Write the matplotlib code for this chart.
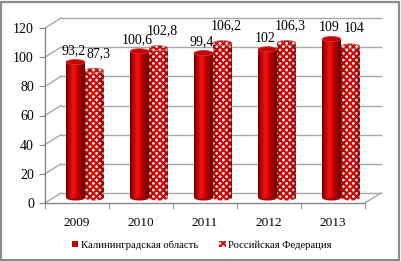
import numpy as np
import matplotlib
matplotlib.use("Agg")
import matplotlib.pyplot as plt
from matplotlib.patches import Ellipse, Rectangle, Patch
from matplotlib.colors import LinearSegmentedColormap

plt.rcParams['font.family'] = ['Liberation Serif', 'DejaVu Serif']
plt.rcParams['hatch.linewidth'] = 1.5

years = ['2009', '2010', '2011', '2012', '2013']
kaliningrad = [93.2, 100.6, 99.4, 102, 109]
russia = [87.3, 102.8, 106.2, 106.3, 104]
series_names = ['Калининградская область', 'Российская Федерация']

RED = '#c00000'
HATCH_RED = '#d80000'
HATCH = 'xxxxx'
GRID = '#a6a6a6'
AXIS = '#868686'

fig = plt.figure(figsize=(4.01, 2.61), dpi=100)
ax = fig.add_axes([45 / 401, 58 / 261, 320 / 401, 175 / 261])
ax.set_xlim(-0.5, 4.5)
ax.set_ylim(0, 120)

# depth of the 3d box, in data units (16 px right, 10 px up)
px_x = 320 / 5
px_y = 175 / 120
dx, dy = 16 / px_x, 10 / px_y
mx, my = dx / 2, dy / 2

# back wall + left wall lines
for y in range(0, 121, 20):
    ax.plot([-0.5 + dx, 4.5 + dx], [y + dy, y + dy], color=GRID, lw=1, clip_on=False, zorder=1)
    ax.plot([-0.5, -0.5 + dx], [y, y + dy], color=GRID, lw=1, clip_on=False, zorder=1)
ax.plot([4.5, 4.5 + dx], [0, dy], color=GRID, lw=1, clip_on=False, zorder=1)

cyl = LinearSegmentedColormap.from_list('cyl', ['#700000', '#c80000', '#ec1a1a', '#cc0000', '#9a0000', '#600000'])
shade = LinearSegmentedColormap.from_list('shade', [(0.3, 0, 0, 0.35), (0, 0, 0, 0.0), (0, 0, 0, 0.0), (0.3, 0, 0, 0.45)])

w = 0.29
off = 0.148
eh = 5 / px_y
x = np.arange(len(years))

for i in range(len(years)):
    # Kaliningrad cylinder
    cx = x[i] + mx - off
    v = kaliningrad[i]
    ax.add_patch(Ellipse((cx, my), w, eh, facecolor='#a00000', edgecolor='none', zorder=2))
    bar = ax.bar(cx, v, w, bottom=my, color=RED, zorder=3)[0]
    im = ax.imshow(np.linspace(0, 1, 64)[None, :], extent=(cx - w / 2, cx + w / 2, my, my + v),
                   cmap=cyl, aspect='auto', zorder=3.5)
    im.set_clip_path(bar)
    ax.add_patch(Ellipse((cx, my + v), w, eh, facecolor='#c40000', edgecolor='#e03030', lw=0.6, zorder=4))
    ax.annotate(f"{v:g}".replace('.', ','), (cx, my + v), xytext=(-1.5, 8), textcoords='offset points',
                ha='center', va='center', fontsize=10)

    # Russia cylinder
    cx = x[i] + mx + off
    v = russia[i]
    ax.add_patch(Ellipse((cx, my), w, eh, facecolor='white', edgecolor=HATCH_RED, hatch=HATCH, lw=0, zorder=2))
    bar = ax.bar(cx, v, w, bottom=my, facecolor='white', edgecolor=HATCH_RED, hatch=HATCH, lw=0, zorder=3)[0]
    im = ax.imshow(np.linspace(0, 1, 64)[None, :], extent=(cx - w / 2, cx + w / 2, my, my + v),
                   cmap=shade, aspect='auto', zorder=3.5)
    im.set_clip_path(bar)
    ax.add_patch(Ellipse((cx, my + v), w, eh, facecolor='white', edgecolor=HATCH_RED, hatch=HATCH, lw=0, zorder=4))
    ax.add_patch(Ellipse((cx, my + v), w, eh, fill=False, edgecolor='#b07070', lw=0.6, zorder=4.5))
    ax.annotate(f"{v:g}".replace('.', ','), (cx, my + v), xytext=(3, 12.5), textcoords='offset points',
                ha='center', va='center', fontsize=10)

ax.set_xlim(-0.5, 4.5)
ax.set_ylim(0, 120)

for s in ['top', 'right']:
    ax.spines[s].set_visible(False)
for s in ['left', 'bottom']:
    ax.spines[s].set_color(AXIS)
    ax.spines[s].set_linewidth(1)

ax.set_yticks(range(0, 121, 20))
ax.tick_params(axis='y', length=4, color=AXIS, labelsize=10, pad=4)
ax.set_xticks(x)
ax.set_xticklabels(years)
ax.set_xticks(np.arange(-0.5, 5, 1), minor=True)
ax.tick_params(axis='x', which='major', length=0, labelsize=9.5, pad=10)
ax.tick_params(axis='x', which='minor', length=4, color=AXIS)

handles = [Patch(facecolor=RED, edgecolor='none'),
           Patch(facecolor='white', edgecolor=HATCH_RED, hatch=HATCH, lw=0)]
fig.legend(handles, series_names, loc='center', bbox_to_anchor=(0.503, 1 - 245 / 261), ncol=2,
           frameon=False, fontsize=7.7, handlelength=0.6, handleheight=0.6, handletextpad=0.25,
           columnspacing=2.0)

fig.add_artist(Rectangle((0.002, 0.004), 0.994, 0.99, transform=fig.transFigure, fill=False,
                         edgecolor='#8c8c8c', lw=1.6))

fig.savefig('out.png', dpi=100)
